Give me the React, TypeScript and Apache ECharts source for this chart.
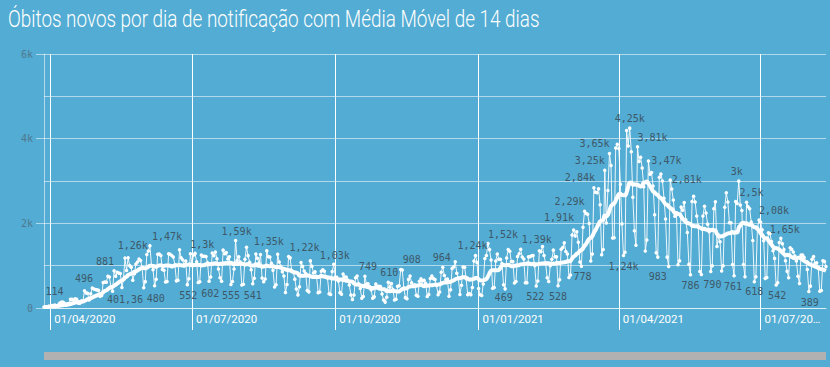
import React, { useEffect, useRef } from "react";
import * as echarts from "echarts";

// Daily new deaths by notification date, one array per month
const mar2020 = [22, 22, 23, 42];
const apr2020 = [40, 58, 60, 73, 54, 67, 114, 133, 141, 115, 68, 99, 105, 204, 204, 188, 217, 206, 115, 113, 166, 165, 407, 357, 346, 189, 338, 474, 449, 435];
const may2020 = [428, 421, 275, 296, 600, 615, 610, 751, 730, 496, 396, 881, 749, 844, 824, 816, 485, 674, 1179, 888, 1188, 1001, 965, 653, 807, 1039, 1086, 1156, 1124, 956, 480];
const jun2020 = [623, 1262, 1349, 1473, 1005, 904, 525, 679, 1272, 1274, 1239, 909, 892, 612, 627, 1282, 1269, 1238, 1206, 1022, 641, 654, 1374, 1185, 1141, 990, 1109, 552, 692, 1280];
const jul2020 = [1038, 1252, 1290, 1091, 602, 620, 1254, 1223, 1220, 1214, 1071, 631, 733, 1300, 1233, 1322, 1163, 921, 716, 632, 1367, 1284, 1311, 1156, 1211, 555, 627, 921, 1592, 1129, 1212];
const aug2020 = [1088, 541, 561, 1154, 1437, 1237, 1079, 905, 572, 703, 1274, 1175, 1060, 1262, 709, 620, 684, 1352, 1212, 1204, 1054, 892, 494, 551, 1271, 1085, 984, 855, 758, 366, 553];
const sep2020 = [1218, 1184, 888, 855, 682, 447, 310, 504, 1075, 983, 874, 814, 415, 381, 1113, 987, 829, 858, 739, 363, 377, 869, 906, 869, 729, 708, 335, 317, 863, 1031];
const oct2020 = [729, 728, 636, 363, 323, 804, 734, 730, 661, 543, 309, 201, 309, 713, 754, 571, 461, 230, 271, 749, 566, 571, 506, 432, 231, 263, 567, 510, 515, 510, 329];
const nov2020 = [190, 139, 254, 610, 489, 580, 435, 191, 206, 511, 525, 908, 898, 472, 245, 216, 676, 754, 598, 521, 550, 302, 276, 630, 691, 638, 658, 587, 272, 317];
const dec2020 = [697, 755, 694, 672, 530, 313, 376, 842, 964, 770, 672, 686, 279, 433, 936, 968, 1092, 823, 706, 321, 535, 968, 963, 694, 314, 341, 312, 483, 1111, 1240, 1074];
const jan2021 = [462, 314, 293, 569, 1171, 1242, 1524, 1379, 1132, 469, 483, 1110, 1274, 1151, 1151, 1050, 551, 452, 1183, 1382, 1340, 1096, 1096, 592, 627, 1214, 1283, 1386, 1206, 1158, 595];
const feb2021 = [595, 1209, 1210, 1232, 1239, 1001, 522, 636, 1350, 1330, 1452, 1239, 1060, 713, 626, 1000, 1150, 1367, 1212, 1210, 528, 666, 1386, 1428, 1541, 1337, 1275, 721];
const mar2021 = [778, 1726, 1840, 1699, 1800, 1555, 1086, 987, 1910, 2286, 2233, 2216, 1997, 1111, 1275, 2841, 2736, 2724, 2815, 2438, 1259, 1383, 3251, 2009, 2777, 3650, 3368, 1656, 1660, 3780, 3869];
const apr2021 = [3769, 2922, 1987, 1240, 1319, 4195, 3829, 4249, 3693, 2616, 1824, 1480, 3808, 3459, 3560, 3305, 2865, 1347, 1607, 3472, 3157, 3200, 2880, 2202, 1305, 1202, 3086, 3163, 3001, 2595];
const may2021 = [2101, 1202, 983, 3025, 2811, 2550, 2165, 2202, 1024, 1113, 2383, 2311, 2494, 2087, 1786, 1036, 786, 2517, 2641, 2504, 2173, 1939, 860, 790, 2173, 2404, 2245, 1981, 1800, 860, 1000];
const jun2021 = [2346, 2507, 1454, 1689, 1566, 873, 1000, 2378, 2723, 2504, 2013, 2016, 1029, 761, 2513, 2468, 2997, 2432, 2301, 1025, 739, 2500, 2392, 2343, 2032, 1593, 618, 740, 1893, 2081];
const jul2021 = [2029, 1850, 1587, 700, 720, 1780, 1760, 1572, 1350, 1172, 542, 595, 1548, 1648, 1520, 1379, 1118, 868, 715, 1424, 1388, 1324, 1226, 1111, 750, 578, 1254, 1249, 1195, 1091, 910];
const aug2021 = [389, 517, 1154, 1215, 1048, 1070, 937, 398, 412, 1118, 1101, 980];

const firstDay = [2020, 2, 28]; // 28/03/2020
const yTicks = [0, 2000, 4000, 6000];
const axisDates = ["01/04/2020", "01/07/2020", "01/10/2020", "01/01/2021", "01/04/2021", "01/07/2021"];
const titleText = "Óbitos novos por dia de notificação com Média Móvel de 14 dias";

// Points whose values are labelled in the reference
const peakLabelDates = ["07/04/2020", "10/05/2020", "12/05/2020", "02/06/2020", "04/06/2020", "14/07/2020", "29/07/2020", "18/08/2020", "01/09/2020", "30/09/2020", "20/10/2020", "04/11/2020", "12/11/2020", "09/12/2020", "30/12/2020", "07/01/2021", "28/01/2021", "09/03/2021", "10/03/2021", "16/03/2021", "23/03/2021", "26/03/2021", "08/04/2021", "13/04/2021", "20/04/2021", "05/05/2021", "17/06/2021", "22/06/2021", "30/06/2021", "14/07/2021"];
const lowLabelDates = ["31/05/2020", "28/06/2020", "05/07/2020", "26/07/2020", "02/08/2020", "10/01/2021", "07/02/2021", "21/02/2021", "01/03/2021", "04/04/2021", "03/05/2021", "17/05/2021", "24/05/2021", "14/06/2021", "27/06/2021", "11/07/2021", "01/08/2021"];
const maLabel = { date: "19/05/2020", text: "401,36" };

// Style: label nudges (px) so labels sit where the reference places them
const labelNudge: Record<string, [number, number]> = {
  "07/04/2020": [-5, -5], "10/05/2020": [-27, -2], "12/05/2020": [-9, -2], "02/06/2020": [-14, -2],
  "04/06/2020": [17, -2], "31/05/2020": [12, 4], "28/06/2020": [1, 4], "14/07/2020": [-10, -2],
  "05/07/2020": [12, 4], "29/07/2020": [1, -2], "26/07/2020": [0, 4], "02/08/2020": [11, 4],
  "18/08/2020": [2, -3], "01/09/2020": [16, -2], "30/09/2020": [1, -2], "20/10/2020": [3, -3],
  "04/11/2020": [1, -3], "12/11/2020": [11, -3], "09/12/2020": [-1, -3], "30/12/2020": [-3, -3],
  "07/01/2021": [15, -2], "10/01/2021": [11, 3], "28/01/2021": [16, -3], "07/02/2021": [-1, 4],
  "21/02/2021": [0, 4], "01/03/2021": [12, -5], "09/03/2021": [-24, -3], "10/03/2021": [-15, -3],
  "16/03/2021": [-14, -3], "23/03/2021": [-15, -3], "26/03/2021": [-15, -3], "08/04/2021": [0, -3],
  "04/04/2021": [0, 4], "13/04/2021": [15, -3], "20/04/2021": [18, 6], "03/05/2021": [-11, 3],
  "05/05/2021": [15, -3], "17/05/2021": [0, 4], "24/05/2021": [11, 3], "14/06/2021": [-1, 4],
  "17/06/2021": [-2, -3], "22/06/2021": [5, -3], "27/06/2021": [0, 3], "30/06/2021": [15, -3],
  "14/07/2021": [4, -2], "11/07/2021": [1, 4], "01/08/2021": [1, 4], "19/05/2020": [0, 17],
};

const dailyDeaths = [
  ...mar2020, ...apr2020, ...may2020, ...jun2020, ...jul2020, ...aug2020, ...sep2020, ...oct2020,
  ...nov2020, ...dec2020, ...jan2021, ...feb2021, ...mar2021, ...apr2021, ...may2021, ...jun2021,
  ...jul2021, ...aug2021,
];

const pad = (n: number) => (n < 10 ? "0" + n : "" + n);
const dates = dailyDeaths.map((_, i) => {
  const d = new Date(Date.UTC(firstDay[0], firstDay[1], firstDay[2] + i));
  return pad(d.getUTCDate()) + "/" + pad(d.getUTCMonth() + 1) + "/" + d.getUTCFullYear();
});

const movingAvg = dailyDeaths.map((_, i) => {
  const from = Math.max(0, i - 13);
  const win = dailyDeaths.slice(from, i + 1);
  return win.reduce((a, b) => a + b, 0) / win.length;
});

const fmt = (v: number) => {
  if (v >= 1000) {
    const s = String(parseFloat((v / 1000).toPrecision(3)));
    return s.replace(".", ",") + "k";
  }
  return String(Math.round(v));
};

const isQuarterStart = (_i: number, v: string) => axisDates.indexOf(v) >= 0;

const LABEL_COLOR = "#3d5869";
const GRID_COLOR = "rgba(255,255,255,0.55)";
const TITLE_FONT = "300 23px Roboto";

export default function App() {
  const ref = useRef<HTMLDivElement>(null);
  useEffect(() => {
    document.body.style.margin = "0";
    if (!ref.current) return;
    const chart = echarts.init(ref.current, null, { renderer: "svg" });

    // condense the title to the reference width
    let titleScale = 0.78;
    const ctx = document.createElement("canvas").getContext("2d");
    if (ctx) {
      ctx.font = TITLE_FONT;
      const w = ctx.measureText(titleText).width;
      if (w > 0) titleScale = 532 / w;
    }

    const dailyData = dailyDeaths.map((v, i) => {
      const d = dates[i];
      const isPeak = peakLabelDates.indexOf(d) >= 0;
      const isLow = lowLabelDates.indexOf(d) >= 0;
      if (isPeak || isLow) {
        return {
          value: v,
          label: { show: true, position: isPeak ? "top" : "bottom", distance: 0, offset: labelNudge[d] || [0, 0] },
        };
      }
      return v;
    });
    const maData = movingAvg.map((v, i) =>
      dates[i] === maLabel.date
        ? { value: v, label: { show: true, position: "bottom", distance: 0, offset: labelNudge[maLabel.date] || [0, 0], formatter: maLabel.text } }
        : v
    );

    chart.setOption({
      animation: false,
      backgroundColor: "#53acd3",
      grid: { left: 44, right: 4, top: 54, bottom: 59, containLabel: false },
      xAxis: {
        type: "category",
        data: dates,
        boundaryGap: false,
        axisLine: { show: true, lineStyle: { color: GRID_COLOR, width: 1 } },
        axisTick: { show: true, interval: isQuarterStart, length: 22, lineStyle: { color: "#ffffff", width: 1 } },
        axisLabel: {
          interval: isQuarterStart,
          align: "left",
          margin: 5,
          padding: [0, 0, 0, 4],
          color: "#ffffff",
          fontFamily: "Roboto",
          fontSize: 11.5,
          formatter: (v: string) => (v === "01/07/2021" ? "01/07/20…" : v),
        },
        splitLine: { show: true, interval: isQuarterStart, lineStyle: { color: "#ffffff", width: 1 } },
      },
      yAxis: {
        type: "value",
        min: yTicks[0],
        max: yTicks[yTicks.length - 1],
        interval: yTicks[1] - yTicks[0],
        axisLine: { show: true, lineStyle: { color: GRID_COLOR } },
        axisTick: { show: true, length: 8, lineStyle: { color: GRID_COLOR } },
        minorTick: { show: false, splitNumber: 2 },
        minorSplitLine: { show: true, lineStyle: { color: GRID_COLOR, width: 1 } },
        splitLine: { show: true, lineStyle: { color: GRID_COLOR, width: 1 } },
        axisLabel: {
          color: "#4f7890",
          fontFamily: "DejaVu Sans Mono",
          fontSize: 10,
          margin: 11,
          formatter: (v: number) => (v === 0 ? "0" : v / 1000 + "k"),
        },
      },
      series: [
        {
          name: "Óbitos",
          type: "line",
          data: dailyData,
          symbol: "circle",
          symbolSize: 3.5,
          showAllSymbol: true,
          lineStyle: { color: "rgba(255,255,255,0.9)", width: 1 },
          itemStyle: { color: "#ffffff" },
          label: {
            show: false,
            color: LABEL_COLOR,
            fontFamily: "DejaVu Sans Mono",
            fontSize: 10,
            formatter: (p: any) => fmt(p.value),
          },
          z: 2,
        },
        {
          name: "Média Móvel",
          type: "line",
          data: maData,
          symbol: "circle",
          symbolSize: 0,
          showSymbol: true,
          showAllSymbol: true,
          smooth: true,
          lineStyle: { color: "#ffffff", width: 4 },
          itemStyle: { color: "rgba(255,255,255,0)" },
          label: { show: false, color: LABEL_COLOR, fontFamily: "DejaVu Sans Mono", fontSize: 10 },
          z: 3,
        },
      ],
      graphic: [
        {
          type: "text",
          x: 8,
          y: 7,
          scaleX: titleScale,
          style: {
            text: titleText,
            fill: "#ffffff",
            font: TITLE_FONT,
            verticalAlign: "top",
          },
        },
        { type: "rect", shape: { x: 44, y: 352, width: 782, height: 8 }, style: { fill: "#b1b1b1" } },
      ],
    });
    return () => chart.dispose();
  }, []);
  return <div ref={ref} style={{ width: 830, height: 367 }} />;
}
